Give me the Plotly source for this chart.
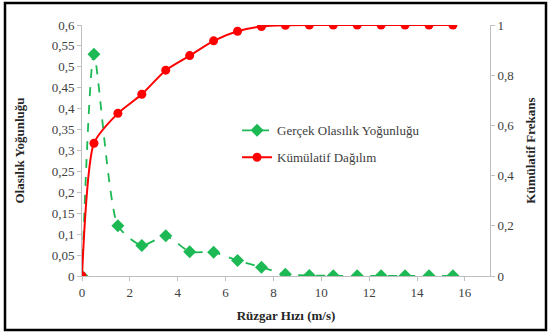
import plotly.graph_objects as go

wind_speed = [0, 0.5, 1.5, 2.5, 3.5, 4.5, 5.5, 6.5, 7.5, 8.5, 9.5, 10.5, 11.5, 12.5, 13.5, 14.5, 15.5]
pdf_values = [0, 0.53, 0.12, 0.073, 0.096, 0.058, 0.057, 0.037, 0.021, 0.004, 0.001, 0.0005, 0.0005, 0.0005, 0.0005, 0.0005, 0.0005]
cdf_values = [0, 0.529, 0.648, 0.724, 0.82, 0.878, 0.937, 0.975, 0.994, 0.999, 1, 1, 1, 1, 1, 1, 1]

x_ticks = [0, 2, 4, 6, 8, 10, 12, 14, 16]
y_left_ticks = [0, 0.05, 0.1, 0.15, 0.2, 0.25, 0.3, 0.35, 0.4, 0.45, 0.5, 0.55, 0.6]
y_right_ticks = [0, 0.2, 0.4, 0.6, 0.8, 1]

def fmt(v):
    return ("%g" % v).replace(".", ",")

font_family = "Liberation Serif"

fig = go.Figure()
fig.add_trace(go.Scatter(
    x=wind_speed, y=pdf_values, name="Gerçek Olasılık Yoğunluğu",
    mode="lines+markers", line=dict(color="#1db954", width=1.8, dash="dash", shape="spline", smoothing=0.6),
    marker=dict(symbol="diamond", size=10, color="#1db954"),
    yaxis="y", legendgroup="a",
))
fig.add_trace(go.Scatter(
    x=wind_speed, y=cdf_values, name="Kümülatif Dağılım",
    mode="lines+markers", line=dict(color="#ff0000", width=2, shape="spline", smoothing=0.6),
    marker=dict(symbol="circle", size=9, color="#ff0000"),
    yaxis="y2", legendgroup="b",
))

axis_common = dict(
    showgrid=False, zeroline=False, showline=True, linecolor="#bfbfbf", linewidth=1,
    ticks="outside", tickcolor="#bfbfbf", ticklen=4,
    tickfont=dict(family=font_family, size=13, color="#404040"),
)

title_font = dict(family=font_family, size=13, color="#262626")

fig.update_layout(
    width=550, height=333,
    paper_bgcolor="white", plot_bgcolor="white",
    margin=dict(l=82, r=60, t=25, b=57),
    font=dict(family=font_family),
    xaxis=dict(range=[0, 17.05], tickvals=x_ticks, ticktext=[fmt(v) for v in x_ticks],
               title=dict(text="<b>Rüzgar Hızı (m/s)</b>", font=title_font, standoff=12),
               **axis_common),
    yaxis=dict(range=[0, 0.6], tickvals=y_left_ticks, ticktext=[fmt(v) for v in y_left_ticks],
               title=dict(text="<b>Olasılık Yoğunluğu</b>", font=title_font, standoff=24),
               **axis_common),
    yaxis2=dict(range=[0, 1], overlaying="y", side="right", anchor="x",
                tickvals=y_right_ticks, ticktext=[fmt(v) for v in y_right_ticks],
                title=dict(text="<b>Kümülatif Frekans</b>", font=title_font, standoff=12),
                **axis_common),
    legend=dict(x=0.38, y=0.64, xanchor="left", yanchor="top", bgcolor="rgba(0,0,0,0)",
                traceorder="grouped", tracegroupgap=7,
                font=dict(family=font_family, size=13, color="#404040")),
    showlegend=True,
)

fig.add_shape(type="rect", xref="paper", yref="paper",
              x0=(5 - 82) / 408, x1=(546 - 82) / 408,
              y0=(276 - 330) / 251, y1=(276 - 3) / 251,
              line=dict(color="black", width=2.5), fillcolor="rgba(0,0,0,0)", layer="below")

fig.write_html("out.html", config={"displayModeBar": False},
               post_script="document.body.style.margin='0';document.body.style.overflow='hidden';")
